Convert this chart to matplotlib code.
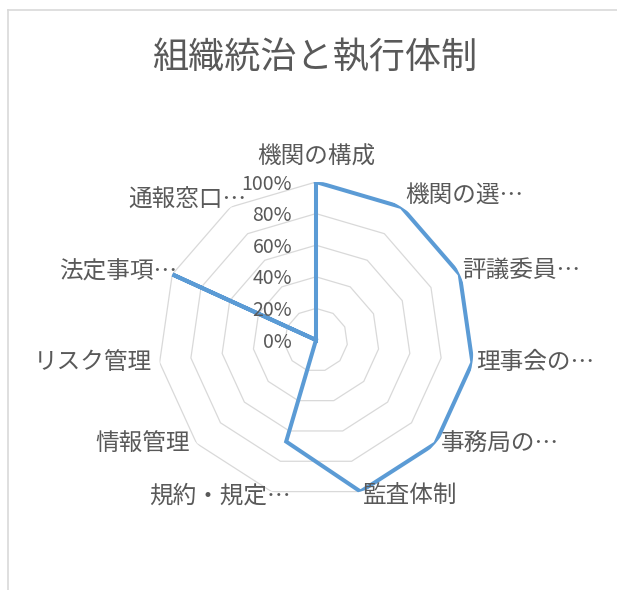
import numpy as np
import matplotlib
matplotlib.use("Agg")
import matplotlib.pyplot as plt
from matplotlib.lines import Line2D

plt.rcParams['font.family'] = ['Noto Sans CJK JP', 'DejaVu Sans']

# ---- data ----
title = "組織統治と執行体制"
categories = ["機関の構成", "機関の選…", "評議委員…", "理事会の…", "事務局の…", "監査体制",
              "規約・規定…", "情報管理", "リスク管理", "法定事項…", "通報窓口…"]
values = [1.00, 1.00, 1.00, 1.00, 1.00, 1.00, 0.67, 0.00, 0.00, 1.00, 0.00]
r_ticks = [0.0, 0.2, 0.4, 0.6, 0.8, 1.0]
r_tick_labels = ["0%", "20%", "40%", "60%", "80%", "100%"]

# ---- layout / style ----
W, H, DPI = 617, 590, 100
cx, cy, R = 316, 340, 158
text_col = "#595959"
grid_col = "#d9d9d9"
line_col = "#5B9BD5"

fig = plt.figure(figsize=(W / DPI, H / DPI), dpi=DPI)
fig.patch.set_facecolor("white")

# chart-area border (only left and top edges visible in crop)
fig.add_artist(Line2D([8 / W, 8 / W], [0, 1 - 10 / H], transform=fig.transFigure, color=grid_col, lw=1.2))
fig.add_artist(Line2D([8 / W, 1], [1 - 10 / H, 1 - 10 / H], transform=fig.transFigure, color=grid_col, lw=1.2))

fig.text(315 / W, 1 - 58 / H, title, ha="center", va="center", fontsize=26, color=text_col)

ax = fig.add_axes([(cx - R) / W, (H - cy - R) / H, 2 * R / W, 2 * R / H], projection="polar")
ax.set_theta_offset(np.pi / 2)
ax.set_theta_direction(-1)
ax.set_ylim(0, 1)
ax.grid(False)
ax.spines["polar"].set_visible(False)
ax.set_xticks([])
ax.set_yticks([])
ax.patch.set_alpha(0)

n = len(categories)
theta = np.arange(n) * 2 * np.pi / n
theta_c = np.append(theta, theta[0])

# polygon grid rings
for r in r_ticks[1:]:
    ax.plot(theta_c, [r] * (n + 1), color=grid_col, lw=0.9, zorder=1)

# data line
vals_c = np.append(values, values[0])
ax.plot(theta_c, vals_c, color=line_col, lw=2.9, solid_joinstyle="miter", zorder=3)

# radial tick labels
for r, lab in zip(r_ticks, r_tick_labels):
    ax.annotate(lab, xy=(0, r), xytext=(-24, -2), textcoords="offset pixels",
                ha="right", va="center", fontsize=14, color=text_col, zorder=4)

# category labels: (ha, dx, dy) nudges in pixels relative to the 100% vertex
nudge = [("center", 0, 25), ("left", 4, 12), ("left", 2, 4), ("left", 4, 0),
         ("left", 5, 0), ("left", 2, -4), ("right", 19, -4), ("right", -7, 0),
         ("right", -8, 0), ("right", 5, 2), ("right", 16, 7)]
for t, lab, (ha, dx, dy) in zip(theta, categories, nudge):
    ax.annotate(lab, xy=(t, 1.0), xytext=(dx, dy), textcoords="offset pixels",
                ha=ha, va="center", fontsize=17, color=text_col, annotation_clip=False)

fig.savefig("out.png", dpi=DPI)
